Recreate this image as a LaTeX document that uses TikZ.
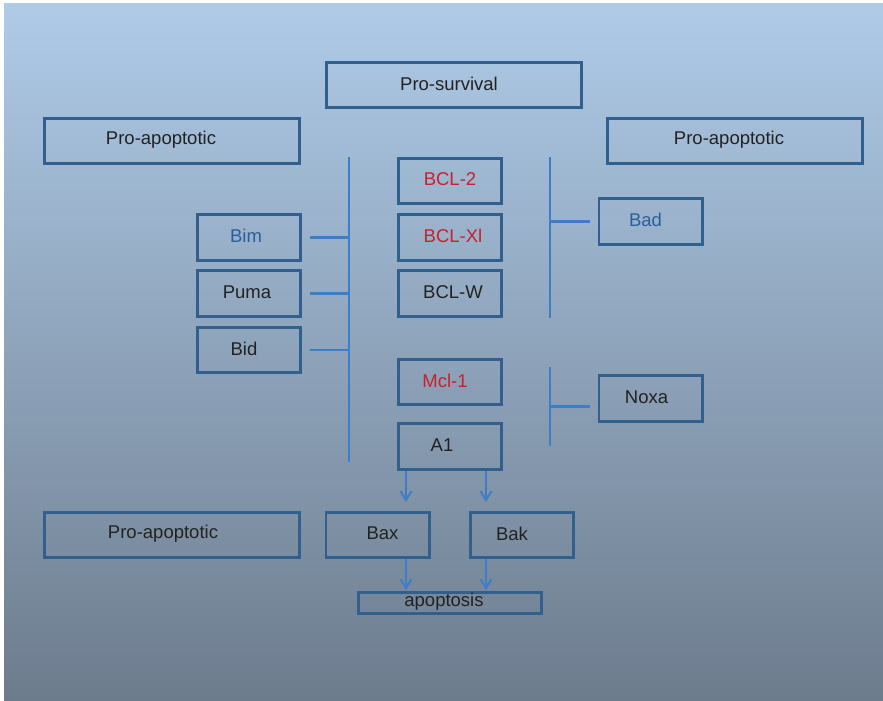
\documentclass[tikz,border=0pt]{standalone}
\usepackage{fontspec}
\setmainfont{Liberation Sans}
\usetikzlibrary{arrows.meta}
\definecolor{bgtop}{HTML}{AFCBE8}
\definecolor{bgbot}{HTML}{6D7C8D}
\definecolor{boxline}{HTML}{31608E}
\definecolor{wirecol}{HTML}{3D7EC6}
\definecolor{ink}{HTML}{222222}
\definecolor{inkred}{HTML}{C9202C}
\definecolor{inkblue}{HTML}{2B5E9C}

\begin{document}
\begin{tikzpicture}[x=1pt,y=-1pt,
  box/.style={draw=boxline, line width=2.8pt, inner sep=0pt,
    minimum width=#1, minimum height=45.3pt},
  box/.default=103.2,
  every label/.style={text=ink, font=\fontsize{18.5}{20}\selectfont, inner sep=0pt, yshift=1.5pt},
  wire/.style={draw=wirecol, line width=2.2pt},
  arr/.style={wire, -{Straight Barb[length=9pt,width=11pt,line width=2pt]}}
]
% page and background
\useasboundingbox (0,0) rectangle (883,701);
\fill[white] (0,0) rectangle (883,701);
\shade[top color=bgtop, bottom color=bgbot] (4,4) rectangle (883,700);

% headings
\node[box=255.2, label={[xshift=-5pt]center:Pro-survival}] (surv) at (454,85) {};
\node[box=255.2, label={[xshift=-11pt]center:Pro-apoptotic}] (pa1) at (172,141) {};
\node[box=255.2, label={[xshift=-6pt]center:Pro-apoptotic}] (pa2) at (735,141) {};
\node[box=255.2, label={[xshift=-9pt]center:Pro-apoptotic}] (pa3) at (172,535) {};

% pro-survival members
\node[box, label={[text=inkred]center:BCL-2}] (bcl2) at (450,181) {};
\node[box, label={[text=inkred,xshift=3pt]center:BCL-Xl}] (bclxl) at (450,237.5) {};
\node[box, label={[xshift=3pt]center:BCL-W}] (bclw) at (450,293.5) {};
\node[box, label={[text=inkred,xshift=-5pt]center:Mcl-1}] (mcl) at (450,382) {};
\node[box, label={[xshift=-8pt]center:A1}] (a1) at (450,446.5) {};

% BH3-only proteins
\node[box, label={[text=inkblue,xshift=-3pt]center:Bim}] (bim) at (249,237.5) {};
\node[box, label={[xshift=-2pt]center:Puma}] (puma) at (249,293.5) {};
\node[box, label={[xshift=-5pt]center:Bid}] (bid) at (249,350) {};
\node[box, label={[text=inkblue,xshift=-5pt]center:Bad}] (bad) at (650.5,221.5) {};
\node[box, label={[xshift=-4pt]center:Noxa}] (noxa) at (650.5,398.5) {};

% effectors and outcome
\node[box, label={[xshift=5pt]center:Bax}] (bax) at (377.5,535) {};
\node[box, label={[xshift=-10pt]center:Bak}] (bak) at (522,535) {};
\node[box=183.2, minimum height=21.2pt, label={[xshift=-6pt]center:apoptosis}] (apop) at (450,603) {};

% left bracket: Bim, Puma, Bid bind all pro-survival members
\coordinate (lbt) at (349,157);
\coordinate (lbb) at (349,462);
\draw[wire] (lbt) -- (lbb);
\foreach \n in {bim,puma,bid}
  \draw[wire] ([xshift=8pt]\n.east) -- (\n.east -| lbt);

% right bracket: Bad binds BCL-2, BCL-Xl, BCL-W
\coordinate (rbt) at (550,157);
\coordinate (rbb) at (550,318);
\draw[wire] (rbt) -- (rbb);
\draw[wire] (rbt |- bad.west) -- ([xshift=-8pt]bad.west);

% right bracket: Noxa binds Mcl-1, A1
\coordinate (nbt) at (550,367);
\coordinate (nbb) at (550,446);
\coordinate (nbm) at (550,406.5);
\draw[wire] (nbt) -- (nbb);
\draw[wire] (nbm) -- ([xshift=-8pt]noxa.west |- nbm);

% arrows to effectors and apoptosis
\draw[arr, shorten >=9pt] ([xshift=-44pt]a1.south) -- ([xshift=-44pt]a1.south |- bax.north);
\draw[arr, shorten >=9pt] ([xshift=36pt]a1.south) -- ([xshift=36pt]a1.south |- bak.north);
\draw[arr, shorten >=1pt] ([xshift=28.5pt]bax.south) -- ([xshift=28.5pt]bax.south |- apop.north);
\draw[arr, shorten >=1pt] ([xshift=-36pt]bak.south) -- ([xshift=-36pt]bak.south |- apop.north);
\end{tikzpicture}
\end{document}
